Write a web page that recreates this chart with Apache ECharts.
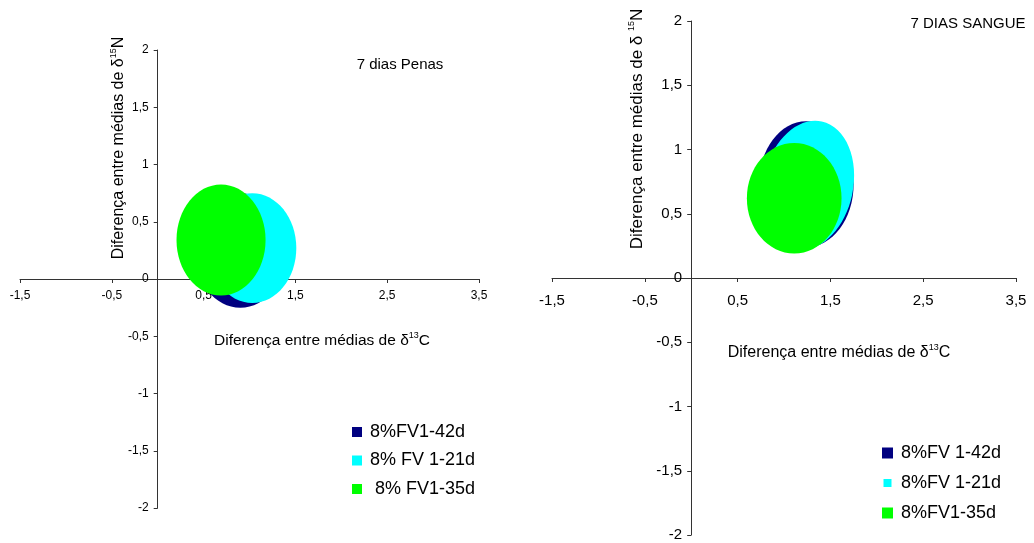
<!DOCTYPE html>
<html>
<head>
<meta charset="utf-8">
<script src="https://cdn.jsdelivr.net/npm/echarts@6/dist/echarts.min.js"></script>
<style>
  html, body { margin: 0; padding: 0; background: #fff; }
  #main { width: 1034px; height: 543px; }
</style>
</head>
<body>
<div id="main"></div>
<script>
// eixos (iguais nos dois paineis)
var xTicks = [-1.5, -0.5, 0.5, 1.5, 2.5, 3.5];
var yTicks = [-2, -1.5, -1, -0.5, 0, 0.5, 1, 1.5, 2];

// nomes das series
var penasNames = ['8%FV1-42d', '8% FV 1-21d', ' 8% FV1-35d'];
var sangueNames = ['8%FV 1-42d', '8%FV 1-21d', '8%FV1-35d'];

// regioes: [centro d13C, centro d15N, meia largura, meia altura, inclinacao graus (horario)]
var penas42 = [0.90, 0.25, 0.50, 0.50, 0];
var penas21 = [1.03, 0.27, 0.48, 0.48, 0];
var penas35 = [0.69, 0.34, 0.485, 0.485, 0];

var sangue42 = [1.24, 0.73, 0.51, 0.49, 0];
var sangue21 = [1.26, 0.72, 0.485, 0.51, 12];
var sangue35 = [1.11, 0.62, 0.51, 0.43, 0];

var colors = ['#000080', '#00ffff', '#00ff00'];
var FONT = "'Liberation Sans', Arial, sans-serif";

// paineis em pixels
var G0 = { left: 20, top: 50, width: 459, height: 458 };
var G1 = { left: 552, top: 21, width: 464, height: 514 };

function fmt(v) {
    return String(v).replace('.', ',');
}

function ellipseItem(params, api) {
    var c = api.coord([api.value(0), api.value(1)]);
    var s = api.size([api.value(2), api.value(3)]);
    return {
        type: 'ellipse',
        x: c[0],
        y: c[1],
        rotation: -api.value(4) * Math.PI / 180,
        shape: { cx: 0, cy: 0, rx: s[0], ry: s[1] },
        style: { fill: api.visual('color') }
    };
}

// eixos cruzando no zero
function makeAxes(idx, g, fs, xMargin, yMargin) {
    var x0 = g.width * (0 - xTicks[0]) / (xTicks[xTicks.length - 1] - xTicks[0]);
    var y0 = g.height * (0 - yTicks[0]) / (yTicks[yTicks.length - 1] - yTicks[0]);
    var line = { onZero: false, lineStyle: { color: '#333', width: 1 } };
    var tick = { show: true, length: 4, lineStyle: { color: '#333' } };
    return {
        x: {
            type: 'value', gridIndex: idx, position: 'bottom', offset: -y0,
            min: xTicks[0], max: xTicks[xTicks.length - 1], interval: 1,
            axisLine: line, axisTick: tick,
            axisLabel: { fontSize: fs, color: '#000', fontFamily: FONT, margin: xMargin, formatter: fmt,
                showMinLabel: true, showMaxLabel: true },
            splitLine: { show: false }
        },
        y: {
            type: 'value', gridIndex: idx, position: 'left', offset: -x0,
            min: yTicks[0], max: yTicks[yTicks.length - 1], interval: 0.5,
            axisLine: line, axisTick: tick,
            axisLabel: { fontSize: fs, color: '#000', fontFamily: FONT, margin: yMargin, formatter: fmt },
            splitLine: { show: false }
        }
    };
}

function blob(name, data, color, idx) {
    return {
        type: 'custom', name: name, xAxisIndex: idx, yAxisIndex: idx,
        renderItem: ellipseItem,
        itemStyle: { color: color },
        silent: true,
        data: [data]
    };
}

var a0 = makeAxes(0, G0, 12, 11, 9);
var a1 = makeAxes(1, G1, 15, 15, 9);

function label(x, y, text, fs, rot) {
    return {
        type: 'text', x: x, y: y, rotation: rot || 0, silent: true,
        style: {
            text: text, x: 0, y: 0, align: 'center', verticalAlign: 'middle',
            font: fs + 'px ' + FONT, fill: '#000',
            rich: {
                n: { fontSize: fs, fontFamily: FONT, fill: '#000' },
                sup: { fontSize: 9, fontFamily: FONT, fill: '#000', padding: [0, 0, 11, 0] }
            }
        }
    };
}

function legendAt(names, left, top, icon, gap) {
    return {
        data: names, orient: 'vertical', left: left, top: top, padding: 0,
        itemWidth: icon, itemHeight: icon, itemGap: gap, icon: 'rect',
        selectedMode: false,
        textStyle: { fontSize: 18, color: '#000', fontFamily: FONT, padding: [0, 0, 0, 3] }
    };
}

// legenda da direita: quadrado ciano menor
var sangueLegend = legendAt(sangueNames, 882, 444, 11, 12);
sangueLegend.data = [
    sangueNames[0],
    { name: sangueNames[1], icon: 'path://M0 0M11 11M1.5 1.5H9.5V9.5H1.5Z' },
    sangueNames[2]
];

var chart = echarts.init(document.getElementById('main'));
chart.setOption({
    backgroundColor: '#fff',
    animation: false,
    grid: [
        { left: G0.left, top: G0.top, width: G0.width, height: G0.height, outerBoundsMode: 'none', containLabel: false },
        { left: G1.left, top: G1.top, width: G1.width, height: G1.height, outerBoundsMode: 'none', containLabel: false }
    ],
    xAxis: [a0.x, a1.x],
    yAxis: [a0.y, a1.y],
    legend: [
        legendAt(penasNames, 352, 423, 10, 10.5),
        sangueLegend
    ],
    graphic: [
        label(400, 65, '7 dias Penas', 15),
        label(968, 24, '7 DIAS SANGUE', 15),
        label(322, 341, '{n|Diferença entre médias de δ}{sup|13}{n|C}', 15.5),
        label(839, 353, '{n|Diferença entre médias de δ}{sup|13}{n|C}', 16),
        label(119, 148, '{n|Diferença entre médias de δ}{sup|15}{n|N}', 16, Math.PI / 2),
        label(637, 129, '{n|Diferença entre médias de δ }{sup|15}{n|N}', 17, Math.PI / 2)
    ],
    series: [
        blob(penasNames[0], penas42, colors[0], 0),
        blob(penasNames[1], penas21, colors[1], 0),
        blob(penasNames[2], penas35, colors[2], 0),
        blob(sangueNames[0], sangue42, colors[0], 1),
        blob(sangueNames[1], sangue21, colors[1], 1),
        blob(sangueNames[2], sangue35, colors[2], 1)
    ]
});
</script>
</body>
</html>
